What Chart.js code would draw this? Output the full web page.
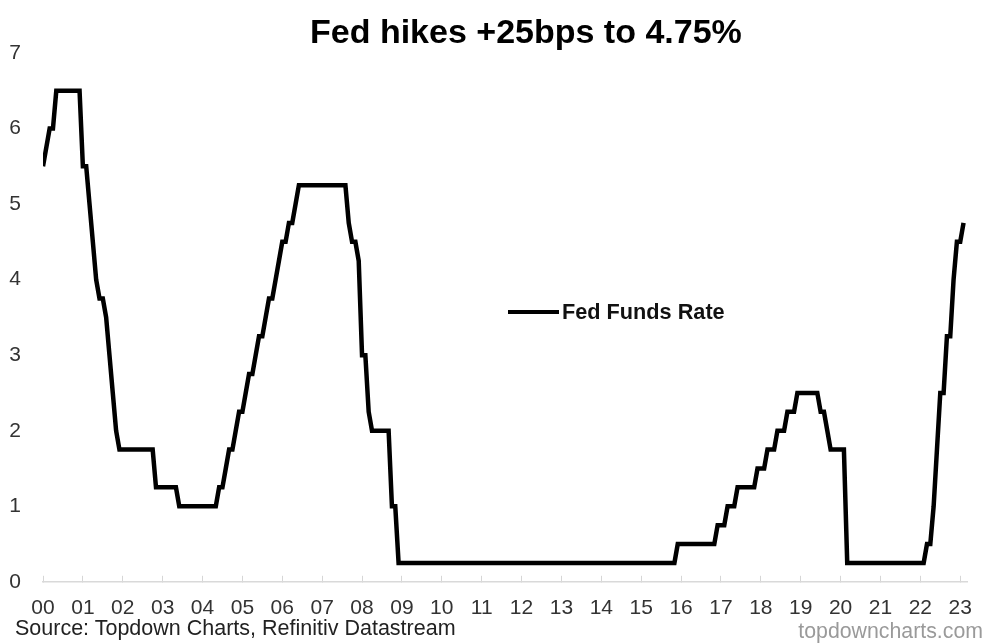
<!DOCTYPE html>
<html>
<head>
<meta charset="utf-8">
<title>Fed Funds Rate</title>
<script src="https://cdn.jsdelivr.net/npm/chart.js@4.4.1/dist/chart.umd.min.js"></script>
<style>
  body { margin: 0; background: #fff; font-family: 'Liberation Sans', Arial, sans-serif; }
  #wrap { position: relative; width: 987px; height: 644px; }
  #title { position: absolute; left: 310px; top: 11px; font-size: 34px; line-height: 40px; font-weight: bold; color: #000; white-space: nowrap; }
  #legend { position: absolute; left: 508px; top: 299px; display: flex; align-items: center; font-weight: bold; font-size: 21.7px; color: #111; }
  #legend span.swatch { display: inline-block; width: 51px; height: 4px; background: #000; margin-right: 3px; }
  #source { position: absolute; left: 15px; top: 616px; font-size: 21.5px; line-height: 24px; color: #222; }
  #site { position: absolute; right: 4px; top: 619px; font-size: 21.3px; line-height: 24px; color: #9a9a9a; }
</style>
</head>
<body>
<div id="wrap">
  <canvas id="myChart"></canvas>
  <div id="title">Fed hikes +25bps to 4.75%</div>
  <div id="legend"><span class="swatch"></span>Fed Funds Rate</div>
  <div id="source">Source: Topdown Charts, Refinitiv Datastream</div>
  <div id="site">topdowncharts.com</div>
</div>
<script>
'use strict';

// month-end target rate (upper bound), Jan 2000 .. Feb 2023
let fedFundsRate = [
  5.5, 5.75, 6, 6, 6.5, 6.5, 6.5, 6.5, 6.5, 6.5, 6.5, 6.5,          // 2000
  5.5, 5.5, 5, 4.5, 4, 3.75, 3.75, 3.5, 3, 2.5, 2, 1.75,            // 2001
  1.75, 1.75, 1.75, 1.75, 1.75, 1.75, 1.75, 1.75, 1.75, 1.75, 1.25, 1.25, // 2002
  1.25, 1.25, 1.25, 1.25, 1.25, 1, 1, 1, 1, 1, 1, 1,                // 2003
  1, 1, 1, 1, 1, 1.25, 1.25, 1.5, 1.75, 1.75, 2, 2.25,              // 2004
  2.25, 2.5, 2.75, 2.75, 3, 3.25, 3.25, 3.5, 3.75, 3.75, 4, 4.25,   // 2005
  4.5, 4.5, 4.75, 4.75, 5, 5.25, 5.25, 5.25, 5.25, 5.25, 5.25, 5.25, // 2006
  5.25, 5.25, 5.25, 5.25, 5.25, 5.25, 5.25, 5.25, 4.75, 4.5, 4.5, 4.25, // 2007
  3, 3, 2.25, 2, 2, 2, 2, 2, 2, 1, 1, 0.25,                         // 2008
  0.25, 0.25, 0.25, 0.25, 0.25, 0.25, 0.25, 0.25, 0.25, 0.25, 0.25, 0.25, // 2009
  0.25, 0.25, 0.25, 0.25, 0.25, 0.25, 0.25, 0.25, 0.25, 0.25, 0.25, 0.25, // 2010
  0.25, 0.25, 0.25, 0.25, 0.25, 0.25, 0.25, 0.25, 0.25, 0.25, 0.25, 0.25, // 2011
  0.25, 0.25, 0.25, 0.25, 0.25, 0.25, 0.25, 0.25, 0.25, 0.25, 0.25, 0.25, // 2012
  0.25, 0.25, 0.25, 0.25, 0.25, 0.25, 0.25, 0.25, 0.25, 0.25, 0.25, 0.25, // 2013
  0.25, 0.25, 0.25, 0.25, 0.25, 0.25, 0.25, 0.25, 0.25, 0.25, 0.25, 0.25, // 2014
  0.25, 0.25, 0.25, 0.25, 0.25, 0.25, 0.25, 0.25, 0.25, 0.25, 0.25, 0.5,  // 2015
  0.5, 0.5, 0.5, 0.5, 0.5, 0.5, 0.5, 0.5, 0.5, 0.5, 0.5, 0.75,      // 2016
  0.75, 0.75, 1, 1, 1, 1.25, 1.25, 1.25, 1.25, 1.25, 1.25, 1.5,     // 2017
  1.5, 1.5, 1.75, 1.75, 1.75, 2, 2, 2, 2.25, 2.25, 2.25, 2.5,       // 2018
  2.5, 2.5, 2.5, 2.5, 2.5, 2.5, 2.25, 2.25, 2, 1.75, 1.75, 1.75,    // 2019
  1.75, 1.75, 0.25, 0.25, 0.25, 0.25, 0.25, 0.25, 0.25, 0.25, 0.25, 0.25, // 2020
  0.25, 0.25, 0.25, 0.25, 0.25, 0.25, 0.25, 0.25, 0.25, 0.25, 0.25, 0.25, // 2021
  0.25, 0.25, 0.5, 0.5, 1, 1.75, 2.5, 2.5, 3.25, 3.25, 4, 4.5,      // 2022
  4.5, 4.75                                                         // 2023
];

let yearLabels = ['00', '01', '02', '03', '04', '05', '06', '07', '08', '09', '10', '11',
  '12', '13', '14', '15', '16', '17', '18', '19', '20', '21', '22', '23'];

let yTicks = [0, 1, 2, 3, 4, 5, 6, 7];

// x = years since Jan 2000
let points = [];
for (let i = 0; i < fedFundsRate.length; i++) {
  points.push({ x: i / 12, y: fedFundsRate[i] });
}

const data = {
  datasets: [
    {
      label: 'Fed Funds Rate',
      data: points,
      borderColor: '#000',
      borderWidth: 4.5,
      pointRadius: 0,
      tension: 0,
      fill: false
    }
  ]
};

const config = {
  type: 'line',
  data: data,
  options: {
    responsive: true,
    maintainAspectRatio: false,
    animation: false,
    layout: {
      padding: { left: 0, right: 20, top: 53, bottom: 3 }
    },
    plugins: {
      legend: { display: false },
      tooltip: { enabled: false },
      title: { display: false }
    },
    scales: {
      x: {
        type: 'linear',
        min: 0,
        max: 23.17,
        afterFit: function (scale) {
          // tick label padding was eating into the right edge
          scale.paddingLeft = 0;
          scale.paddingRight = 0;
        },
        grid: {
          drawOnChartArea: false,
          color: '#d6d6d6',
          tickLength: -6
        },
        border: { color: '#d9d9d9', width: 1.5 },
        ticks: {
          stepSize: 1,
          includeBounds: false,
          autoSkip: false,
          maxRotation: 0,
          padding: 20,
          color: '#333',
          font: { family: 'Liberation Sans', size: 21 },
          callback: function (value) {
            return yearLabels[Math.round(value)];
          }
        }
      },
      y: {
        min: yTicks[0],
        max: yTicks[yTicks.length - 1],
        grid: { display: false, drawTicks: false },
        border: { display: false },
        afterFit: function (scale) {
          scale.width = 43;
        },
        ticks: {
          stepSize: 1,
          padding: 22,
          color: '#333',
          font: { family: 'Liberation Sans', size: 21 }
        }
      }
    }
  }
};

const myChart = new Chart(document.getElementById('myChart'), config);
</script>
</body>
</html>
